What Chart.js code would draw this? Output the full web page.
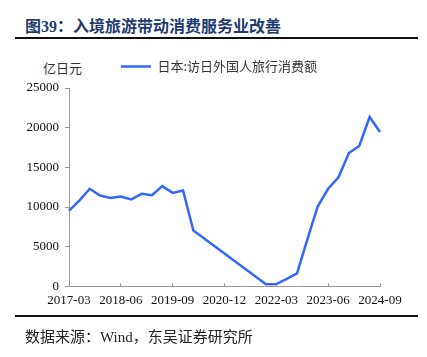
<!DOCTYPE html>
<html><head><meta charset="utf-8">
<script src="https://cdn.jsdelivr.net/npm/chart.js@4.4.1/dist/chart.umd.min.js"></script>
<style>
html,body{margin:0;padding:0;background:#fff;width:427px;height:357px;overflow:hidden;}
#title{position:absolute;left:25px;top:13px;font:bold 16px "Noto Sans CJK SC","Liberation Serif",serif;color:#1F3B6E;white-space:nowrap;}
#title b{font-family:"Liberation Serif",serif;}
.rule{position:absolute;left:15px;width:403px;height:2px;background:#111;}
#unit{position:absolute;left:43px;top:58px;font:13px "Noto Sans CJK SC",sans-serif;color:#333;}
#src{position:absolute;left:25px;top:325px;font:15px "Noto Sans CJK SC","Liberation Serif",serif;color:#222;white-space:nowrap;}
#wrap{position:absolute;left:0;top:50px;width:427px;height:267px;}
</style></head>
<body>
<div id="title">图<b>39</b>：入境旅游带动消费服务业改善</div>
<div class="rule" style="top:37px"></div>
<div id="unit">亿日元</div>
<div id="wrap"><canvas id="c" width="427" height="267"></canvas></div>
<div class="rule" style="top:315px"></div>
<div id="src">数据来源：<span style="font-family:'Liberation Serif',serif">Wind</span>，东吴证券研究所</div>
<script>
const quarters = ["2017-03","2017-06","2017-09","2017-12","2018-03","2018-06","2018-09","2018-12","2019-03","2019-06","2019-09","2019-12","2020-03","2020-06","2020-09","2020-12","2021-03","2021-06","2021-09","2021-12","2022-03","2022-06","2022-09","2022-12","2023-03","2023-06","2023-09","2023-12","2024-03","2024-06","2024-09"];
const seriesName = "日本:访日外国人旅行消费额";
const spending = [9550,10800,12300,11450,11150,11320,10950,11660,11490,12630,11780,12080,7030,null,null,null,null,null,null,260,300,950,1650,5950,10100,12300,13750,16800,17700,21350,19450];
const yTicks = [0,5000,10000,15000,20000,25000];
const labelEvery = 5;

const legendTweak = {
  id: 'legendTweak',
  beforeLayout(chart) {
    const lg = chart.legend;
    if (lg && !lg._patched) {
      const orig = lg.fit;
      lg.fit = function () { orig.call(this); this.height += 5; };
      lg._patched = true;
    }
  },
  afterLayout(chart) {
    const lg = chart.legend;
    if (lg) { lg.left = lg.left + 58; }
  }
};

new Chart(document.getElementById('c'), {
  type: 'line',
  data: { labels: quarters, datasets: [{
    label: seriesName, data: spending, borderColor: '#3366FF', backgroundColor: '#3366FF',
    borderWidth: 2.5, pointRadius: 0, spanGaps: true, tension: 0
  }]},
  plugins: [legendTweak],
  options: {
    responsive: false, animation: false,
    layout: { padding: { left: 0, right: 47, top: 0, bottom: 0 } },
    plugins: {
      tooltip: { enabled: false },
      legend: { display: true, align: 'center',
        labels: { usePointStyle: true, pointStyle: 'line', pointStyleWidth: 30, boxHeight: 3,
          color: '#333', font: { family: '"Noto Sans CJK SC", sans-serif', size: 13 }, padding: 10 } }
    },
    scales: {
      x: {
        offset: false,
        border: { color: '#999', width: 1 },
        grid: { drawOnChartArea: false, drawTicks: true, tickLength: -3,
          color: c => (c.index % labelEvery === 0 ? '#999' : 'rgba(0,0,0,0)') },
        ticks: { autoSkip: false, maxRotation: 0, minRotation: 0, padding: 9, color: '#111',
          font: { family: '"Liberation Serif", serif', size: 13 },
          callback: (v, i) => (i % labelEvery === 0 ? quarters[i] : '') }
      },
      y: {
        min: 0, max: 25000,
        afterBuildTicks: s => { s.ticks = yTicks.map(v => ({ value: v })); },
        afterFit: s => { s.width = 69; },
        border: { color: '#999', width: 1 },
        grid: { drawOnChartArea: false, drawTicks: true, tickLength: 4, color: '#999' },
        ticks: { padding: 6, color: '#111', font: { family: '"Liberation Serif", serif', size: 13 },
          callback: v => String(v) }
      }
    }
  }
});
</script>
</body></html>
